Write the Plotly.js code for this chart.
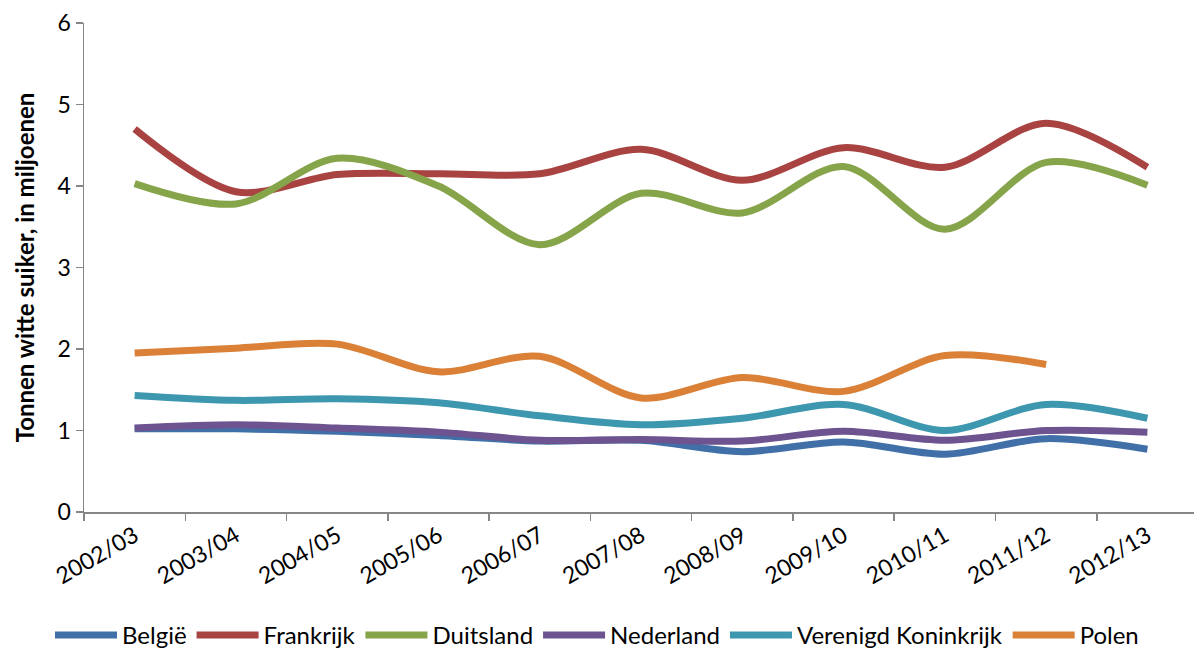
<!DOCTYPE html>
<html>
<head>
<meta charset="utf-8">
<script src="https://cdn.plot.ly/plotly-3.0.1.min.js"></script>
<style>html,body{margin:0;padding:0;background:#fff;}#chart{width:1194px;height:658px;}</style>
</head>
<body>
<div id="chart"></div>
<script>
const seasons = ["2002/03","2003/04","2004/05","2005/06","2006/07","2007/08","2008/09","2009/10","2010/11","2011/12","2012/13"];
const belgie     = [1.02, 1.02, 0.99, 0.94, 0.87, 0.88, 0.74, 0.86, 0.71, 0.90, 0.77];
const frankrijk  = [4.70, 3.93, 4.14, 4.15, 4.15, 4.45, 4.07, 4.47, 4.23, 4.77, 4.23];
const duitsland  = [4.03, 3.78, 4.34, 4.00, 3.28, 3.91, 3.67, 4.24, 3.47, 4.29, 4.01];
const nederland  = [1.03, 1.07, 1.03, 0.98, 0.88, 0.89, 0.87, 0.99, 0.88, 1.00, 0.98];
const vk         = [1.43, 1.37, 1.39, 1.34, 1.18, 1.07, 1.15, 1.32, 1.00, 1.32, 1.15];
const polen      = [1.95, 2.01, 2.06, 1.72, 1.91, 1.40, 1.65, 1.48, 1.92, 1.81, null];

const seriesNames = ["België","Frankrijk","Duitsland","Nederland","Verenigd Koninkrijk","Polen"];
const seriesData = [belgie, frankrijk, duitsland, nederland, vk, polen];
const colors = ["#4170A8","#A84341","#86A449","#6D538F","#3D97AF","#DB8037"];

const traces = seriesData.map((d, i) => ({
  type: "scatter",
  mode: "lines",
  x: seasons,
  y: d,
  name: seriesNames[i],
  line: {color: colors[i], width: 7, shape: "spline", smoothing: 0.9},
  connectgaps: false
}));

const font = "Lato, 'Open Sans', sans-serif";
const fs = 23;
const layout = {
  width: 1194, height: 658,
  margin: {l: 84, r: 0, t: 23, b: 146},
  paper_bgcolor: "#fff", plot_bgcolor: "#fff",
  font: {family: font, size: fs, color: "#000"},
  showlegend: true,
  legend: {
    orientation: "h", xref: "container", yref: "container",
    x: 0.5, xanchor: "center", y: -0.012, yanchor: "bottom",
    itemwidth: 62, font: {family: font, size: 24, color: "#000"},
    traceorder: "normal"
  },
  xaxis: {
    type: "category",
    range: [-0.5, 10.46],
    showgrid: false, zeroline: false,
    showline: true, linecolor: "#868686", linewidth: 1.5,
    ticks: "outside", tickson: "boundaries", ticklen: 7, tickcolor: "#868686", tickwidth: 1.5,
    tickangle: -30,
    tickfont: {family: font, size: fs, color: "#000"},
    fixedrange: true
  },
  yaxis: {
    range: [0, 6], dtick: 1, tick0: 0,
    showgrid: false, zeroline: false,
    showline: true, linecolor: "#868686", linewidth: 1.5,
    ticks: "outside", ticklen: 7, tickcolor: "#868686", tickwidth: 1.5,
    tickfont: {family: font, size: fs, color: "#000"},
    title: {text: "Tonnen witte suiker, in miljoenen", font: {family: font, size: 24, color: "#000", weight: "bold"}, standoff: 16},
    fixedrange: true
  }
};

Plotly.newPlot("chart", traces, layout, {displayModeBar: false, staticPlot: true});
</script>
</body>
</html>
